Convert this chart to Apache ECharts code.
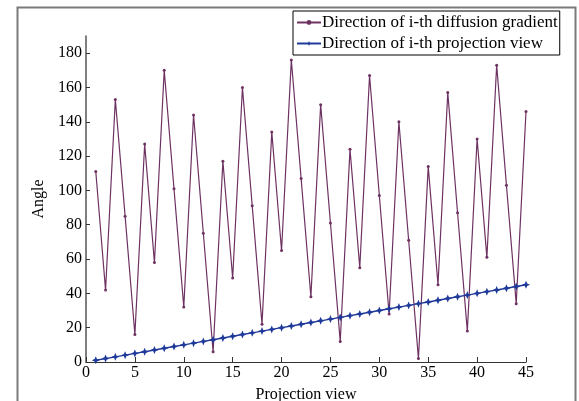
<!DOCTYPE html>
<html>
<head>
<meta charset="utf-8">
<script src="https://cdn.jsdelivr.net/npm/echarts@6/dist/echarts.min.js"></script>
<style>
html,body{margin:0;padding:0;background:#fff;}
#chart{width:579px;height:401px;}
</style>
</head>
<body>
<div id="chart"></div>
<script>
const projectionViews = [1,2,3,4,5,6,7,8,9,10,11,12,13,14,15,16,17,18,19,20,21,22,23,24,25,26,27,28,29,30,31,32,33,34,35,36,37,38,39,40,41,42,43,44,45];
const gradientDirection = [111,42,153,85,16,127,58,170,101,32,144,75,6,117,49,160,91,22,134,65,176,107,38,150,81,12,124,55,167,97,28,140,71,2,114,45,157,87,18,130,61,173,103,34,146];
const projectionDirection = [1,2,3,4,5,6,7,8,9,10,11,12,13,14,15,16,17,18,19,20,21,22,23,24,25,26,27,28,29,30,31,32,33,34,35,36,37,38,39,40,41,42,43,44,45];
const yTicks = [0,20,40,60,80,100,120,140,160,180];
const xTicks = [0,5,10,15,20,25,30,35,40,45];
const seriesNames = ['Direction of i-th diffusion gradient','Direction of i-th projection view'];

const FONT = '"Liberation Serif","Times New Roman",serif';
const starPath = 'path://M0,-10 L3,-3 L10,0 L3,3 L0,10 L-3,3 L-10,0 L-3,-3 Z';

const chart = echarts.init(document.getElementById('chart'), null, {renderer:'canvas'});
chart.setOption({
  backgroundColor:'#fff',
  animation:false,
  textStyle:{fontFamily:FONT},
  graphic:[{
    type:'rect', left:15, top:5, shape:{x:0,y:0,width:558,height:430},
    style:{fill:'none', stroke:'#7a7a7a', lineWidth:2}, silent:true, z:-10
  }],
  grid:{left:86, right:53, top:36, bottom:39, containLabel:false, outerBoundsMode:'none'},
  legend:{
    orient:'vertical', left:293, top:11,
    padding:[2,2,2,3], itemGap:2, itemWidth:24, itemHeight:6,
    borderColor:'#000', borderWidth:1, backgroundColor:'#fff',
    textStyle:{fontFamily:FONT, fontSize:17, color:'#000', padding:[0,0,0,-4], lineHeight:19},
    data:seriesNames
  },
  xAxis:{
    type:'value', min:0, max:45, interval:5,
    name:'Projection view', nameLocation:'middle', nameGap:25,
    nameTextStyle:{fontFamily:FONT, fontSize:16, color:'#000'},
    axisLine:{lineStyle:{color:'#333', width:1.2}},
    axisTick:{inside:true, length:5, lineStyle:{color:'#333'}, customValues:xTicks},
    axisLabel:{fontFamily:FONT, fontSize:16, color:'#000', margin:3, customValues:xTicks},
    splitLine:{show:false}
  },
  yAxis:{
    type:'value', min:0, max:190, interval:20,
    name:'Angle', nameLocation:'middle', nameGap:30, nameRotate:90,
    nameTextStyle:{fontFamily:FONT, fontSize:16, color:'#000'},
    axisLine:{show:true, lineStyle:{color:'#555', width:1.5}},
    axisTick:{show:true, inside:true, length:4, lineStyle:{color:'#333'}, customValues:yTicks},
    axisLabel:{fontFamily:FONT, fontSize:16, color:'#000', margin:4, customValues:yTicks},
    splitLine:{show:false}
  },
  series:[
    {
      name:seriesNames[0], type:'line',
      data:projectionViews.map((v,i)=>[v, gradientDirection[i]]),
      lineStyle:{color:'#6e3262', width:1.2},
      itemStyle:{color:'#6e3262'},
      symbol:'circle', symbolSize:3, showSymbol:true, z:2
    },
    {
      name:seriesNames[1], type:'line',
      data:projectionViews.map((v,i)=>[v, projectionDirection[i]]),
      lineStyle:{color:'#1f3a9a', width:1.4},
      itemStyle:{color:'#1f3a9a'},
      symbol:starPath, symbolSize:8, showSymbol:true, z:3
    }
  ]
});
</script>
</body>
</html>
